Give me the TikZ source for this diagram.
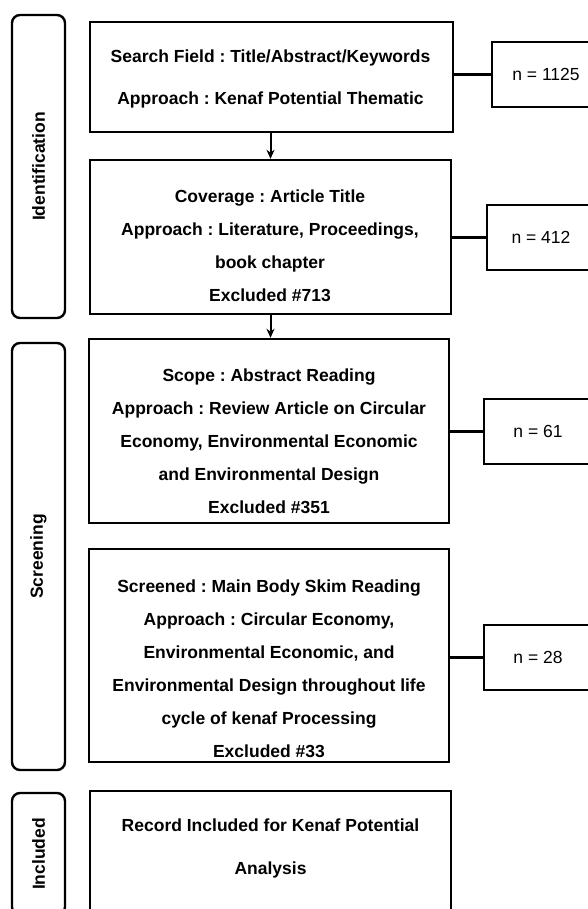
\documentclass[tikz,border=0pt]{standalone}
\usepackage{fontspec}
\setmainfont{Liberation Sans}
\frenchspacing
\usetikzlibrary{arrows.meta, positioning}

\begin{document}
\begin{tikzpicture}[x=1pt, y=-1pt,
    stage/.style={draw, line width=2.4pt, rounded corners=8pt, rotate=90, minimum height=53pt, inner sep=0pt, font=\bfseries\fontsize{17.5}{21}\selectfont},
    box/.style={draw, line width=2.4pt, inner sep=0pt},
    txt/.style={align=center, inner sep=0pt, font=\bfseries\fontsize{17.5}{33}\selectfont},
    count/.style={draw, line width=2.4pt, minimum width=108pt, minimum height=65pt, font=\fontsize{17.5}{21}\selectfont},
    link/.style={line width=2.6pt},
    flow/.style={line width=2pt, -{Stealth[length=9pt, width=8pt]}}]
    \useasboundingbox (0,0) rectangle (588,909);
    \clip (0,0) rectangle (588,909);

    % stages on the left
    \node[stage, minimum width=303pt] (ident) at (38.5,166.5) {Identification};
    \node[stage, minimum width=427pt] (screen) at (38.5,556.5) {Screening};
    \node[stage, minimum width=122pt] (incl) at (38.5,854) {Included};

    % search field
    \node[box, minimum width=363pt, minimum height=110pt] (srch) at (271.5,77) {};
    \node[txt] (srchtxt) at (270.5,79) {Search Field : Title/Abstract/Keywords\\[9pt]Approach : Kenaf Potential Thematic};

    % coverage
    \node[box, minimum width=361pt, minimum height=154pt] (cov) at (270.5,237) {};
    \node[txt] (covtxt) at (270,246) {Coverage : Article Title\\Approach : Literature, Proceedings,\\book chapter\\Excluded \#713};

    % scope
    \node[box, minimum width=360pt, minimum height=184pt] (scope) at (269,431) {};
    \node[txt] (scopetxt) at (269,441.5) {Scope : Abstract Reading\\Approach : Review Article on Circular\\Economy, Environmental Economic\\and Environmental Design\\Excluded \#351};

    % skim reading
    \node[box, minimum width=360pt, minimum height=213pt] (skim) at (269,655.5) {};
    \node[txt] (skimtxt) at (269,668.5) {Screened : Main Body Skim Reading\\Approach : Circular Economy,\\Environmental Economic, and\\Environmental Design throughout life\\cycle of kenaf Processing\\Excluded \#33};

    % included record
    \node[box, minimum width=361pt, minimum height=124pt] (rec) at (270.5,853) {};
    \node[txt] (rectxt) at (270.5,848.5) {Record Included for Kenaf Potential\\[10pt]Analysis};

    % record counts
    \node[count] (n1) at (546,74.5) {n = 1125};
    \node[count] (n2) at (541,237.5) {n = 412};
    \node[count] (n3) at (538,431.5) {n = 61};
    \node[count] (n4) at (538,657.5) {n = 28};

    \draw[link] (srch.east |- n1.west) -- (n1.west);
    \draw[link] (cov.east |- n2.west) -- (n2.west);
    \draw[link] (scope.east |- n3.west) -- (n3.west);
    \draw[link] (skim.east |- n4.west) -- (n4.west);

    % flow arrows
    \draw[flow] (cov.north |- srch.south) -- (cov.north);
    \draw[flow] (cov.south) -- (cov.south |- scope.north);
\end{tikzpicture}
\end{document}
